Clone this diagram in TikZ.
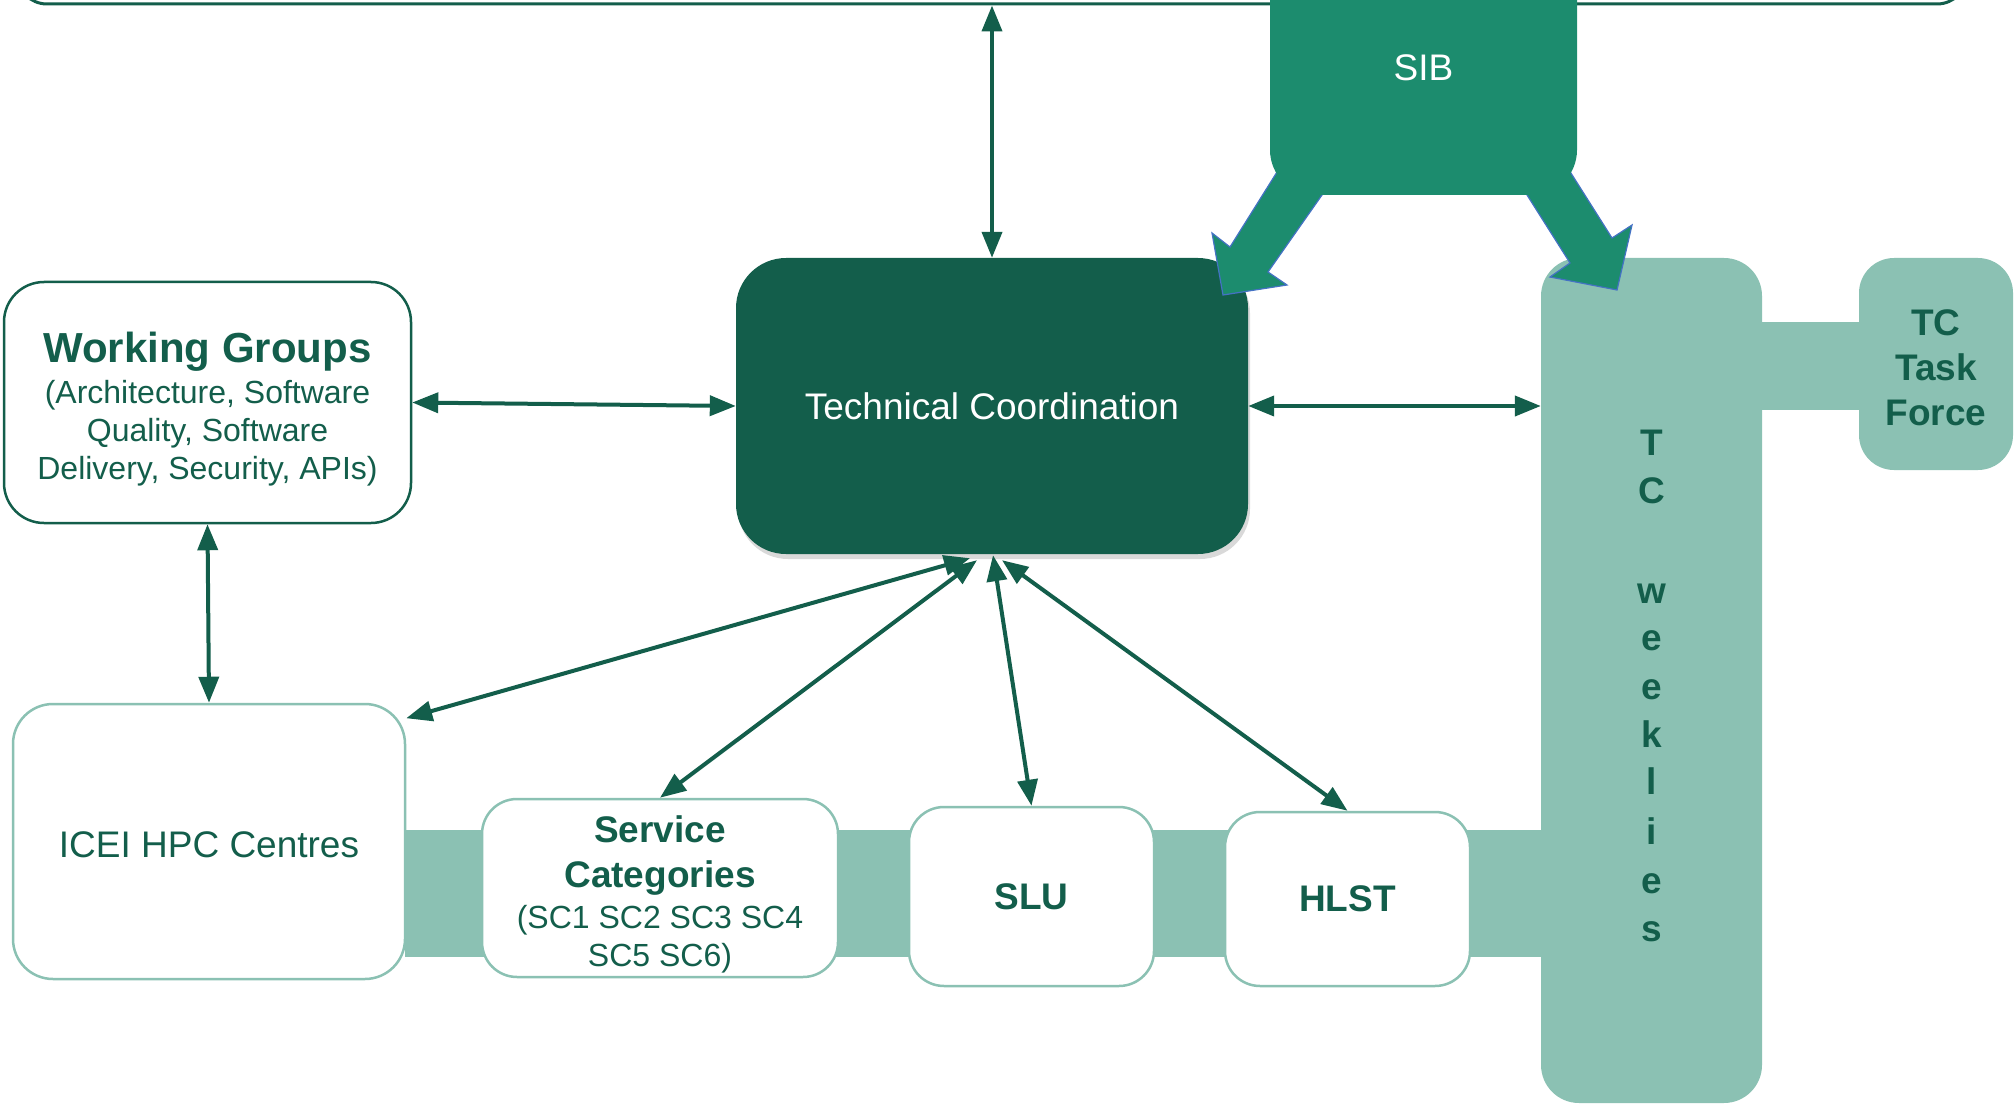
\documentclass[tikz,border=0pt]{standalone}
\usepackage{fontspec}
\setmainfont{Liberation Sans}
\usetikzlibrary{arrows.meta,calc,shadows}
\definecolor{tcdark}{HTML}{135E4B}
\definecolor{sibgreen}{HTML}{1C8C6E}
\definecolor{tclight}{HTML}{8BC1B3}
\definecolor{sibedge}{HTML}{4472C4}
\newcommand{\mainsize}{\fontsize{37}{45}\selectfont}
\newcommand{\notesize}{\fontsize{32}{38}\selectfont}
\newcommand{\lift}[1]{\rule{0pt}{#1}}
\tikzset{every node/.style={inner sep=0pt,align=center,text=tcdark,font=\mainsize}}
\tikzset{whitebox/.style={draw=tclight,line width=2.5pt,fill=white,rounded corners=35pt}}
\tikzset{lightbox/.style={fill=tclight,rounded corners=38pt}}
\tikzset{link/.style={draw=tcdark,line width=4pt,>={Triangle[length=26pt,width=20pt]},<->}}

\begin{document}
\begin{tikzpicture}[x=1pt,y=-1pt]
\useasboundingbox (0,0) rectangle (2015,1107);
\clip (0,0) rectangle (2015,1107);
      \node[draw=tcdark,line width=3pt,rounded corners=30pt,minimum width=1950pt,minimum height=200pt] (top) at (992,-96) {};
      \fill[tclight] (405,830) rectangle (1545,957);
      \fill[tclight] (1755,322) rectangle (1865,410);
      \node[fill=tcdark,text=white,rounded corners=50pt,minimum width=512pt,minimum height=296pt,drop shadow={shadow xshift=2pt,shadow yshift=-5pt,opacity=0.3}] (tc) at (992,406) {Technical Coordination};
      \node[whitebox,draw=tcdark,rounded corners=40pt,minimum width=407pt,minimum height=241pt,font=\notesize] (wg) at (207.5,402.5) {{\fontsize{42}{44}\selectfont\bfseries\lift{44pt}Working Groups}\\[3.5pt](Architecture, Software\\Quality, Software\\Delivery, Security, APIs)};
      \node[whitebox,rounded corners=40pt,minimum width=392pt,minimum height=275pt] (icei) at (209,841.5) {\lift{31.5pt}ICEI HPC Centres};
      \node[whitebox,minimum width=356pt,minimum height=178pt,font=\fontsize{37}{38.5}\selectfont] (sc) at (660,888) {\lift{40pt}\textbf{Service}\\[6.5pt]\textbf{Categories}\\[2.5pt]{\notesize (SC1 SC2 SC3 SC4}\\{\notesize SC5 SC6)}};
      \node[whitebox,minimum width=245pt,minimum height=179pt,font=\mainsize\bfseries] (slu) at (1031.5,896.5) {SLU};
      \node[whitebox,minimum width=245pt,minimum height=174pt,font=\mainsize\bfseries] (hlst) at (1347.5,899) {HLST};
      \node[lightbox,minimum width=221pt,minimum height=845pt] (tcw) at (1651.5,680.5) {};
      \node[lightbox,rounded corners=35pt,minimum width=154pt,minimum height=212pt,font=\mainsize\bfseries] (tctf) at (1936,364) {\lift{32.5pt}TC\\Task\\Force};

\foreach \ch/\yy [count=\i] in {T/455,C/503,w/603,e/650,e/699,k/747,l/794,i/844,e/893,s/941}
  \node[anchor=base,font=\mainsize\bfseries] (tcw\i) at (1652,\yy) {\ch};

      \coordinate (topmid) at (tc.north |- top.south);
      \coordinate (tcwin) at (tc.east -| tcw.west);
      \coordinate (t1) at ($(tc.south)+(-22,4)$);
      \coordinate (t2) at ($(tc.south)+(-15,6)$);
      \coordinate (t3) at ($(tc.south)+(1,1)$);
      \coordinate (t4) at ($(tc.south)+(10,6)$);

\foreach \a/\b in {tc.north/topmid,wg.east/tc.west,wg.south/icei.north,tc.east/tcwin,t1/icei.32,t2/sc.north,t3/slu.north,t4/hlst.north}
  \draw[link] (\a) -- (\b);

% SIB block arrows
\filldraw[fill=sibgreen,draw=sibedge,line width=1.2pt] (1277,172) -- (1230,247) -- (1212,233) -- (1223,295) -- (1287,285) -- (1268,272) -- (1322,195) -- cycle;
\filldraw[fill=sibgreen,draw=sibedge,line width=1.2pt] (1527,195) -- (1570,263) -- (1550,277) -- (1617,290) -- (1632,225) -- (1612,238) -- (1569,170) -- cycle;
      \node[fill=sibgreen,text=white,rounded corners=45pt,minimum width=307pt,minimum height=255pt] (sib) at (1423.5,67.5) {SIB};
    \end{tikzpicture}
\end{document}
